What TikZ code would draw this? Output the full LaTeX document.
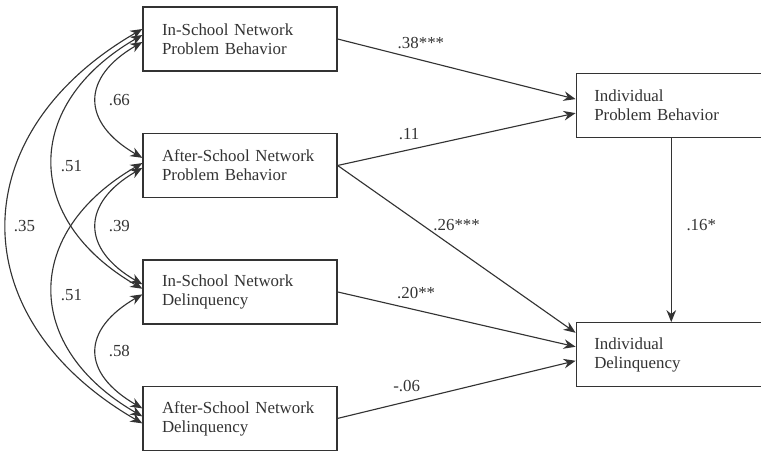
\documentclass[tikz,border=0pt]{standalone}
\usepackage{fontspec}
\setmainfont{Liberation Serif}
\usetikzlibrary{arrows.meta, positioning}

\begin{document}
\begin{tikzpicture}[
    node distance=1.53cm and 5.95cm,
    box/.style={draw=black!80, line width=0.9pt, align=left, text=black!80,
                font=\fontsize{12}{13.5}\selectfont, minimum height=1.6cm,
                text width=3.9cm, inner xsep=0.475cm},
    coef/.style={font=\fontsize{12}{13.5}\selectfont, text=black!80, inner sep=0pt},
    arr/.style={-{Stealth[length=3mm, width=2.4mm]}, line width=0.8pt, black!80},
    cov/.style={{Stealth[length=3mm, width=2.4mm]}-{Stealth[length=3mm, width=2.4mm]},
                line width=0.8pt, black!80}
]
\useasboundingbox (0,0) rectangle (19.025,-11.25);

\node[box] (ispb) at (6,-0.975) {In-School Network\\Problem Behavior};
\node[box, below=of ispb] (aspb) {After-School Network\\Problem Behavior};
\node[box, below=of aspb] (isdel) {In-School Network\\Delinquency};
\node[box, below=of isdel] (asdel) {After-School Network\\Delinquency};

\node[box, right=of ispb, yshift=-1.6625cm, text width=3.85cm, inner xsep=0.45cm] (indpb)
{Individual\\Problem Behavior};
\node[box, below=4.6cm of indpb, text width=3.85cm, inner xsep=0.45cm] (indel)
{Individual\\Delinquency};

% paths
\draw[arr] (ispb.east) -- node[coef, pos=0.35, yshift=0.425cm] {.38***} ([yshift=0.16cm]indpb.west);
\draw[arr] (aspb.east) -- node[coef, pos=0.3, yshift=0.4cm] {.11} ([yshift=-0.19cm]indpb.west);
\draw[arr] (aspb.east) -- node[coef, pos=0.5, yshift=0.6cm] {.26***} ([yshift=0.55cm]indel.west);
\draw[arr] (isdel.east) -- node[coef, pos=0.33, yshift=0.43cm] {.20**} ([yshift=0.2cm]indel.west);
\draw[arr] (asdel.east) -- node[coef, pos=0.29, yshift=0.39cm] {-.06} ([yshift=-0.15cm]indel.west);
\draw[arr] (indpb) -- node[coef, pos=0.47, xshift=0.75cm] {.16*} (indel);

% correlations
\draw[cov] ([yshift=-0.075cm]ispb.west) to[out=210, in=150, distance=1.77cm]
    node[coef, xshift=0.575cm] {.66} ([yshift=0.19cm]aspb.west);
\draw[cov] ([yshift=-0.06cm]aspb.west) to[out=210, in=150, distance=1.77cm]
    node[coef, xshift=0.575cm] {.39} ([yshift=0.19cm]isdel.west);
\draw[cov] ([yshift=-0.06cm]isdel.west) to[out=210, in=150, distance=1.77cm]
    node[coef, xshift=0.575cm] {.58} ([yshift=0.25cm]asdel.west);
\draw[cov] ([yshift=0.1cm]ispb.west) to[out=210, in=150, distance=3.46cm]
    node[coef, xshift=0.475cm, yshift=-0.11cm] {.51} ([yshift=0.08cm]isdel.west);
\draw[cov] ([yshift=0.06cm]aspb.west) to[out=210, in=150, distance=3.46cm]
    node[coef, xshift=0.475cm, yshift=-0.14cm] {.51} ([yshift=0.05cm]asdel.west);
\draw[cov] ([yshift=0.25cm]ispb.west) to[out=210, in=150, distance=5.23cm]
    node[coef, xshift=0.45cm] {.35} ([yshift=-0.125cm]asdel.west);
\end{tikzpicture}
\end{document}
